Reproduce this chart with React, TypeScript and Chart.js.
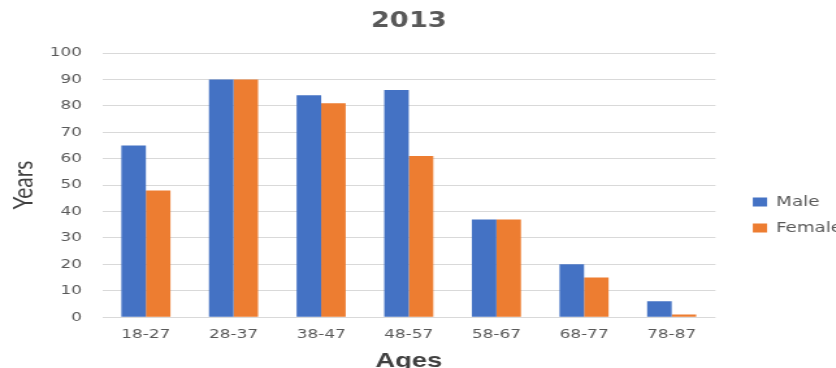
import React, { useEffect, useRef } from 'react';
import { Chart, registerables } from 'chart.js';

Chart.register(...registerables);

const categories = ['18-27', '28-37', '38-47', '48-57', '58-67', '68-77', '78-87'];
const maleValues = [65, 90, 84, 86, 37, 20, 6];
const femaleValues = [48, 90, 81, 61, 37, 15, 1];
const seriesNames = ['Male', 'Female'];
const seriesColors = ['#4472C4', '#ED7D31'];
const chartTitle = '2013';
const xAxisTitle = 'Ages';
const yAxisTitle = 'Years';
const yMin = 0;
const yMax = 100;
const yStep = 10;

const STRETCH = 1.3;
const INNER_W = 660;
const INNER_H = 377;

export default function App() {
  const canvasRef = useRef<HTMLCanvasElement | null>(null);

  useEffect(() => {
    const canvas = canvasRef.current;
    if (!canvas) return;
    const tickFont = { family: "'DejaVu Sans', sans-serif", size: 13 };
    const chart = new Chart(canvas, {
      type: 'bar',
      data: {
        labels: categories,
        datasets: [
          {
            label: seriesNames[0],
            data: maleValues,
            backgroundColor: seriesColors[0],
            borderWidth: 0,
            categoryPercentage: 0.56,
            barPercentage: 1.0,
          },
          {
            label: seriesNames[1],
            data: femaleValues,
            backgroundColor: seriesColors[1],
            borderWidth: 0,
            categoryPercentage: 0.56,
            barPercentage: 1.0,
          },
        ],
      },
      options: {
        animation: false,
        responsive: false,
        devicePixelRatio: 1,
        layout: { padding: { left: 0, right: 2.3, top: 0, bottom: 0 } },
        plugins: {
          title: {
            display: true,
            text: chartTitle,
            fullSize: false,
            color: '#595959',
            font: { family: "'DejaVu Sans', sans-serif", size: 21, weight: 'bold' },
            padding: { top: 9, bottom: 18.8 },
          },
          legend: {
            display: true,
            position: 'right',
            fullSize: false,
            align: 'center',
            title: { display: true, text: '', font: { size: 10 }, padding: { top: 48, bottom: 0 } },
            labels: {
              color: '#595959',
              font: { family: "'DejaVu Sans', sans-serif", size: 14 },
              boxWidth: 11,
              boxHeight: 9,
              padding: 12,
            },
          },
          tooltip: { enabled: false },
        },
        scales: {
          x: {
            grid: { display: false, drawTicks: false },
            border: { display: false },
            ticks: { color: '#595959', font: tickFont, padding: 9.6 },
            title: {
              display: true,
              text: xAxisTitle,
              color: '#404040',
              font: { family: "'Liberation Sans', sans-serif", size: 21, weight: 'bold' },
              padding: { top: -3.4, bottom: 3.2 },
            },
          },
          y: {
            min: yMin,
            max: yMax,
            grid: { color: '#d9d9d9', lineWidth: 1, drawTicks: false },
            border: { display: false },
            ticks: { stepSize: yStep, color: '#595959', font: tickFont, padding: 15.5 },
            title: {
              display: true,
              text: yAxisTitle,
              color: '#404040',
              font: { family: "Lato, 'Liberation Sans', sans-serif", size: 21 },
              padding: { top: 5.5, bottom: -8 },
            },
          },
          gap: {
            type: 'linear',
            position: 'right',
            display: true,
            grid: { display: false, drawTicks: false },
            border: { display: false },
            ticks: { display: false },
            afterFit: (scale: any) => {
              scale.width = 16.7;
            },
          },
        },
      } as any,
    });
    return () => {
      chart.destroy();
    };
  }, []);

  return (
    <div
      style={{
        position: 'fixed',
        left: 0,
        top: 0,
        width: 836,
        height: 368,
        overflow: 'hidden',
        background: '#ffffff',
      }}
    >
      <canvas
        ref={canvasRef}
        width={INNER_W}
        height={INNER_H}
        style={{ width: `${INNER_W * STRETCH}px`, height: `${INNER_H}px`, display: 'block' }}
      />
    </div>
  );
}
